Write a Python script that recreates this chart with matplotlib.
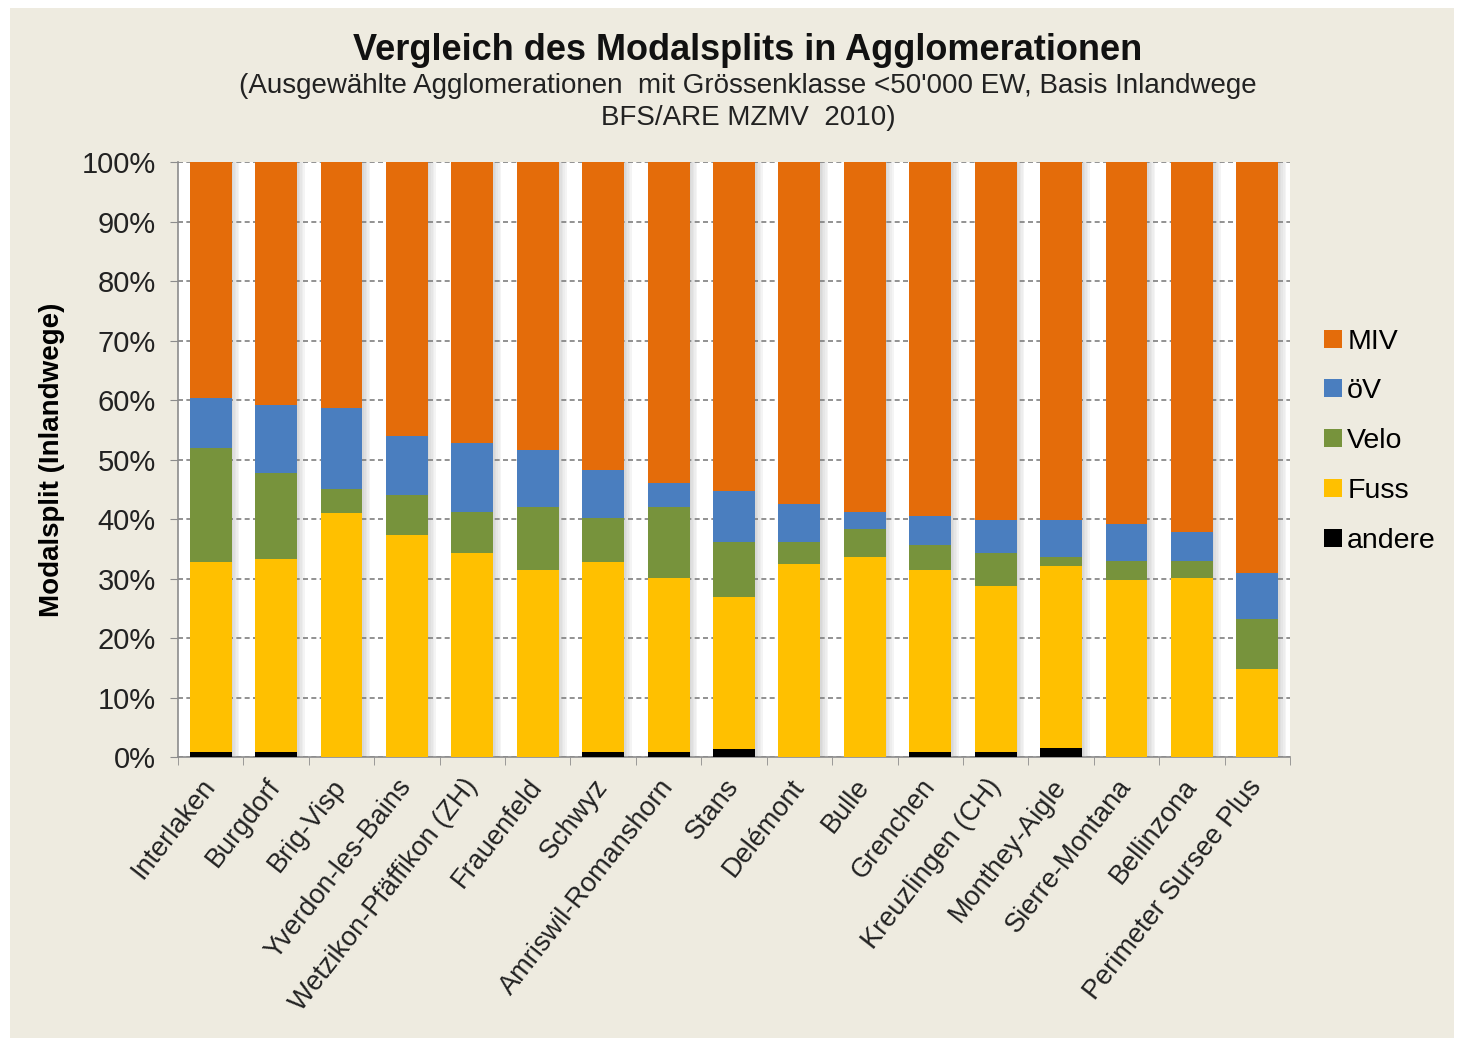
import matplotlib.pyplot as plt
from matplotlib.patches import Rectangle
import numpy as np

# Categories and modal split shares (percent of inland trips)
agglos = ['Interlaken', 'Burgdorf', 'Brig-Visp', 'Yverdon-les-Bains',
          'Wetzikon-Pfäffikon (ZH)', 'Frauenfeld', 'Schwyz', 'Amriswil-Romanshorn',
          'Stans', 'Delémont', 'Bulle', 'Grenchen', 'Kreuzlingen (CH)',
          'Monthey-Aigle', 'Sierre-Montana', 'Bellinzona', 'Perimeter Sursee Plus']
andere = [0.8, 0.8, 0.0, 0.0, 0.0, 0.0, 0.8, 0.8, 1.3, 0.0, 0.0, 0.8, 0.8, 1.5, 0.0, 0.0, 0.0]
fuss = [31.9, 32.5, 41.0, 37.3, 34.3, 31.4, 31.9, 29.3, 25.6, 32.4, 33.7, 30.6, 28.0, 30.6, 29.8, 30.1, 14.8]
velo = [19.2, 14.4, 4.0, 6.8, 6.9, 10.7, 7.5, 12.0, 9.3, 3.8, 4.6, 4.2, 5.5, 1.5, 3.1, 2.8, 8.4]
oev = [8.4, 11.4, 13.7, 9.9, 11.6, 9.5, 8.1, 3.9, 8.5, 6.3, 2.9, 4.9, 5.5, 6.2, 6.3, 5.0, 7.8]
miv = [39.7, 40.9, 41.3, 46.0, 47.2, 48.4, 51.7, 54.0, 55.3, 57.5, 58.8, 59.5, 60.2, 60.2, 60.8, 62.1, 69.0]
y_ticks = [0, 10, 20, 30, 40, 50, 60, 70, 80, 90, 100]

BG = '#EEEBE0'
series = [('andere', andere, '#000000'),
          ('Fuss', fuss, '#FFC000'),
          ('Velo', velo, '#77933C'),
          ('öV', oev, '#4A7EBF'),
          ('MIV', miv, '#E46C0A')]

plt.rcParams['font.family'] = ['Liberation Sans', 'DejaVu Sans']

fig = plt.figure(figsize=(14.61, 10.46), dpi=100, facecolor='white')
fig.patches.append(Rectangle((0.007, 0.008), 0.988, 0.984, transform=fig.transFigure,
                             facecolor=BG, edgecolor='none', zorder=-10))
ax = fig.add_axes([0.1218, 0.2763, 0.7612, 0.5687])
ax.set_facecolor('white')

x = np.arange(len(agglos))
bw = 0.64

# soft shadow to the right of every bar
totals = np.sum([s[1] for s in series], axis=0)
for k in range(5):
    ax.bar(x + bw / 2 + 0.012 + 0.024 * k, totals, width=0.024, color='#7f7f7f',
           alpha=0.30 - 0.055 * k, linewidth=0, zorder=2)

bottom = np.zeros(len(agglos))
handles = {}
for name, vals, col in series:
    vals = np.array(vals)
    h = ax.bar(x, vals, bw, bottom=bottom, color=col, linewidth=0, zorder=3, label=name)
    handles[name] = h
    bottom += vals

ax.set_xlim(-0.5, len(agglos) - 0.5)
ax.set_ylim(0, 100)
ax.set_yticks(y_ticks)
ax.set_yticklabels([f'{t}%' for t in y_ticks], fontsize=21, color='#222222')
ax.yaxis.grid(True, linestyle=(0, (3, 2)), color='#7f7f7f', linewidth=1.2, zorder=1)
ax.set_axisbelow(True)

ax.set_xticks(x)
ax.set_xticklabels(agglos, rotation=52, ha='right', va='center', rotation_mode='anchor',
                   fontsize=19.5, color='#222222')
ax.tick_params(axis='x', length=0, pad=18)
ax.set_xticks(np.arange(len(agglos) + 1) - 0.5, minor=True)
ax.tick_params(axis='x', which='minor', length=6, color='#8c8c8c', direction='out')
ax.tick_params(axis='y', length=6, color='#8c8c8c', direction='out', pad=10)

for side in ['top', 'right']:
    ax.spines[side].set_visible(False)
for side in ['left', 'bottom']:
    ax.spines[side].set_color('#8c8c8c')
    ax.spines[side].set_linewidth(1.2)

ax.set_ylabel('Modalsplit (Inlandwege)', fontsize=20, fontweight='bold', labelpad=12)

fig.text(0.512, 0.952, 'Vergleich des Modalsplits in Agglomerationen',
         ha='center', va='center', fontsize=26, fontweight='bold', color='#111111')
fig.text(0.512, 0.918, "(Ausgewählte Agglomerationen  mit Grössenklasse <50'000 EW, Basis Inlandwege",
         ha='center', va='center', fontsize=20, color='#222222')
fig.text(0.512, 0.887, 'BFS/ARE MZMV  2010)',
         ha='center', va='center', fontsize=20, color='#222222')

order = ['MIV', 'öV', 'Velo', 'Fuss', 'andere']
leg = fig.legend([handles[n] for n in order], order, loc='center left',
                 bbox_to_anchor=(0.889, 0.578), frameon=False, fontsize=20.5,
                 handlelength=0.6, handleheight=0.6, handletextpad=0.2,
                 labelspacing=0.84)

fig.savefig('out.png', dpi=100, facecolor=fig.get_facecolor())
